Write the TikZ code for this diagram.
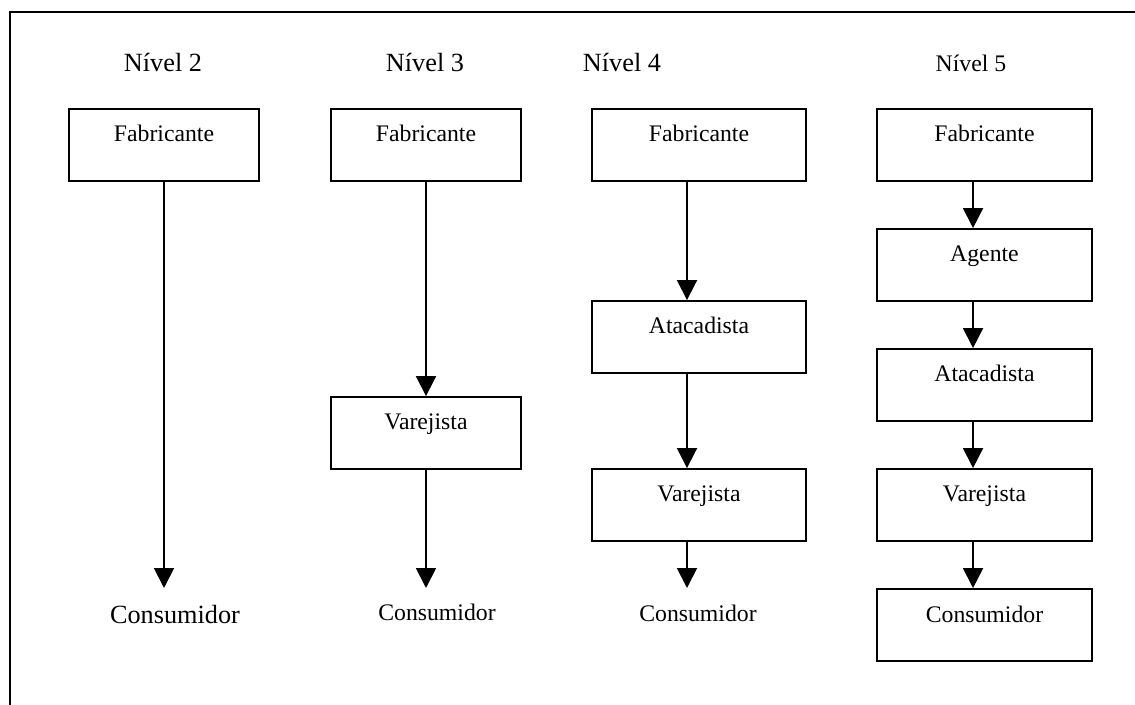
\documentclass[tikz,border=0pt]{standalone}
\usepackage{fontspec}
\setmainfont{Liberation Serif}
\usetikzlibrary{arrows.meta}
\begin{document}
\begin{tikzpicture}[x=0.75pt,y=-0.75pt,
  lw/.style={line width=1.4pt},
  small/.style={font=\fontsize{17.8pt}{20pt}\selectfont},
  large/.style={font=\fontsize{19.7pt}{22pt}\selectfont},
  stage/.style={draw,lw,small,inner sep=0pt,minimum width=142.5pt,
    text height=24.75pt,text depth=29.25pt},
  widestage/.style={stage,minimum width=160.75pt},
  loose/.style={inner sep=0pt,anchor=north,text depth=0pt},
  title/.style={anchor=base,inner sep=0pt},
  arr/.style={lw,-{Triangle[width=15pt,length=15pt]}}]
\useasboundingbox (0,0) rectangle (1135,705);

% frame of the table cell
\draw[lw] (1135,12) -- (10,12) -- (10,705);

% column headings
\node[title,large] (n2) at (163,72) {Nível 2};
\node[title,large] (n3) at (425,72) {Nível 3};
\node[title,large] (n4) at (622,72) {Nível 4};
\node[title,small] (n5) at (971,72) {Nível 5};

% level 2
\node[stage] (f2) at (164,145) {Fabricante};
\node[loose,large,text height=26.25pt] (c2) at (175,588) {Consumidor};
\draw[arr] (f2.south) -- (f2.south |- c2.north);

% level 3
\node[stage] (f3) at (426,145) {Fabricante};
\node[stage] (v3) at (426,433) {Varejista};
\node[loose,small,text height=24pt] (c3) at (437,588) {Consumidor};
\draw[arr] (f3.south) -- (v3.north);
\draw[arr] (v3.south) -- (v3.south |- c3.north);

% level 4
\node[widestage] (f4) at (699,145) {Fabricante};
\node[widestage] (a4) at (699,337) {Atacadista};
\node[widestage] (v4) at (699,505) {Varejista};
\node[loose,small,text height=24.75pt] (c4) at (698,588) {Consumidor};
\draw[arr] ([xshift=-9pt]f4.south) -- ([xshift=-9pt]a4.north);
\draw[arr] ([xshift=-9pt]a4.south) -- ([xshift=-9pt]v4.north);
\draw[arr] ([xshift=-9pt]v4.south) -- ([xshift=-9pt]v4.south |- c4.north);

% level 5
\node[widestage] (f5) at (984.5,145) {Fabricante};
\node[widestage] (g5) at (984.5,265) {Agente};
\node[widestage] (a5) at (984.5,385) {Atacadista};
\node[widestage] (v5) at (984.5,505) {Varejista};
\node[widestage] (c5) at (984.5,625) {Consumidor};
\draw[arr] ([xshift=-8.6pt]f5.south) -- ([xshift=-8.6pt]g5.north);
\draw[arr] ([xshift=-8.6pt]g5.south) -- ([xshift=-8.6pt]a5.north);
\draw[arr] ([xshift=-8.6pt]a5.south) -- ([xshift=-8.6pt]v5.north);
\draw[arr] ([xshift=-8.6pt]v5.south) -- ([xshift=-8.6pt]c5.north);
\end{tikzpicture}
\end{document}
